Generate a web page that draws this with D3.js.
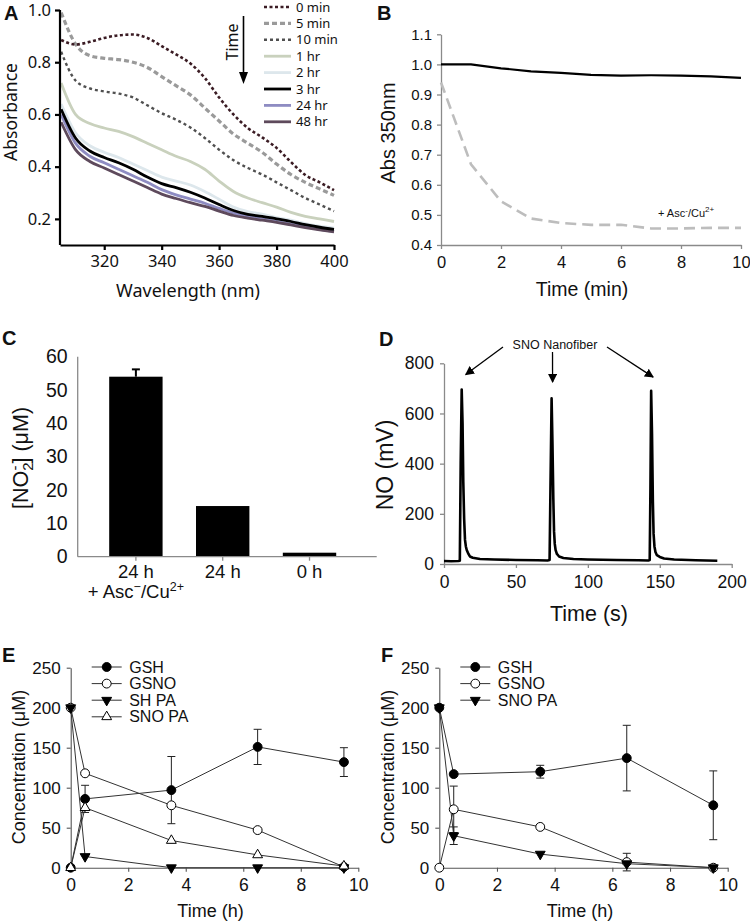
<!DOCTYPE html>
<html><head><meta charset="utf-8">
<script src="https://cdn.jsdelivr.net/npm/d3@7"></script>
<style>body{margin:0;background:#fff}text{fill:#111}</style>
</head><body>
<svg id="fig" width="750" height="924" xmlns="http://www.w3.org/2000/svg"></svg>
<script>
// ---------------- DATA ----------------
// Panel A: absorbance spectra
const wavelengths = [305,310,315,320,325,330,335,340,345,350,355,360,365,370,375,380,385,390,395,400];
const abs0min  = [0.885,0.868,0.878,0.893,0.903,0.906,0.893,0.862,0.830,0.795,0.740,0.665,0.600,0.548,0.512,0.472,0.418,0.368,0.340,0.310];
const abs5min  = [0.990,0.870,0.825,0.815,0.810,0.800,0.780,0.745,0.710,0.675,0.625,0.575,0.525,0.490,0.455,0.410,0.370,0.340,0.315,0.290];
const abs10min = [0.840,0.730,0.700,0.688,0.680,0.665,0.635,0.605,0.580,0.550,0.510,0.465,0.425,0.395,0.370,0.340,0.310,0.280,0.255,0.230];
const abs1hr   = [0.720,0.600,0.565,0.548,0.535,0.515,0.490,0.465,0.440,0.420,0.390,0.345,0.305,0.280,0.262,0.245,0.225,0.210,0.200,0.190];
const abs2hr   = [0.640,0.530,0.480,0.455,0.435,0.410,0.385,0.360,0.345,0.330,0.305,0.275,0.245,0.228,0.218,0.205,0.195,0.182,0.172,0.165];
const abs3hr   = [0.620,0.510,0.460,0.435,0.415,0.390,0.360,0.335,0.320,0.302,0.280,0.255,0.232,0.217,0.210,0.200,0.190,0.178,0.168,0.160];
const abs24hr  = [0.600,0.490,0.440,0.415,0.390,0.365,0.340,0.312,0.292,0.276,0.260,0.240,0.222,0.210,0.200,0.190,0.180,0.170,0.160,0.152];
const abs48hr  = [0.570,0.465,0.420,0.395,0.370,0.345,0.320,0.295,0.278,0.262,0.248,0.230,0.213,0.203,0.195,0.187,0.177,0.167,0.158,0.150];
const seriesA  = ["0 min","5 min","10 min","1 hr","2 hr","3 hr","24 hr","48 hr"];
const ticksAx  = [320,340,360,380,400];
const ticksAy  = [0.2,0.4,0.6,0.8,1.0];

// Panel B: Abs 350 nm vs time
const timeB     = [0,1,2,3,4,5,6,7,8,9,10];
const absB      = [1.000,1.000,0.987,0.977,0.972,0.965,0.963,0.964,0.963,0.960,0.955];
const absBAscCu = [0.940,0.668,0.545,0.488,0.473,0.467,0.467,0.455,0.455,0.457,0.457];
const ticksBx   = [0,2,4,6,8,10];
const ticksBy   = [0.4,0.5,0.6,0.7,0.8,0.9,1.0,1.1];

// Panel C: nitrite bars
const catsC   = ["c1","c2","c3"];
const valsC   = [54,15.2,1.2];
const errC    = [2.2,0,0];
const ticksCy = [0,10,20,30,40,50,60];

// Panel D: NO trace
const timeD = [0,5,10,11,11.6,12.3,12.9,13.4,14,14.6,15.2,15.8,17,18,20,25,35,50,65,72,73.4,74,74.8,75.4,76,76.5,77,77.6,78.5,80,83,90,100,120,135,142,143,143.5,144,144.6,145.2,145.7,146.3,147,148,150,153,160,175,190];
const noD   = [12,11,12,13,400,695,560,330,180,96,70,56,40,30,25,20,18,16,15,14,16,300,660,480,260,130,80,55,40,30,24,20,18,16,15,14,16,300,690,520,250,120,70,48,35,28,22,18,15,13];
const ticksDx = [0,50,100,150,200];
const ticksDy = [0,200,400,600,800];
const peaksD  = [12.3,74.8,144];

// Panel E
const timeEF   = [0,0.5,3.5,6.5,9.5];
const gshE     = [0,86,97,151,132];
const gshEerr  = [0,17,42,22,18];
const gsnoE    = [200,118,78,47,1];
const gsnoEerr = [0,0,0,0,0];
const shpaE    = [200,14,0,0,0];
const snopaE   = [0,75,34,16,2];
// Panel F
const gshF      = [200,117,120,137,78];
const gshFerr   = [0,0,8,41,43];
const gsnoF     = [0,73,51,7,0];
const gsnoFerr  = [0,29,0,11,0];
const snopaF    = [200,40,17,5,0];
const snopaFerr = [0,11,0,0,0];
const ticksEx = [0,2,4,6,8,10];
const ticksEy = [0,50,100,150,200,250];

// ---------------- DRAWING ----------------
const svg = d3.select("#fig");
const ARIAL = "'Liberation Sans', Arial, sans-serif";
const MYR = "'Noto Sans', 'Open Sans', sans-serif";

function label(t,x,y){ svg.append("text").attr("x",x).attr("y",y).text(t)
  .attr("font-family",ARIAL).attr("font-weight","bold").attr("font-size",20); }

function styleAxis(g, color, width, fs, font){
  g.select(".domain").attr("stroke",color).attr("stroke-width",width);
  g.selectAll(".tick line").attr("stroke",color).attr("stroke-width",width);
  g.selectAll(".tick text").attr("font-family",font).attr("font-size",fs).attr("fill","#111");
}

// ===== Panel A =====
(function(){
  const x = d3.scaleLinear().domain([304.6,400]).range([60,334]);
  const y = d3.scaleLinear().domain([0.1,1.0]).range([245,10]);
  const colors = ["#3b1c24","#9a9a9a","#505050","#c9d1bd","#dde7ec","#000000","#8e8cc2","#5e4a5c"];
  const widths = [2.6,3.2,2.4,2.8,2.8,2.8,2.8,2.8];
  const dashes = ["3,2.5","5,3","3,3",null,null,null,null,null];
  const data = [abs0min,abs5min,abs10min,abs1hr,abs2hr,abs3hr,abs24hr,abs48hr];
  const order = [3,4,1,6,7,5,2,0];
  const line = d3.line().x((d,i)=>x(wavelengths[i])).y(d=>y(d)).curve(d3.curveMonotoneX);
  order.forEach(k=>{
    svg.append("path").attr("d",line(data[k])).attr("fill","none")
      .attr("stroke",colors[k]).attr("stroke-width",widths[k])
      .attr("stroke-dasharray",dashes[k]);
  });
  const gx = svg.append("g").attr("transform","translate(0,245)")
    .call(d3.axisBottom(x).tickValues(ticksAx).tickSize(5).tickPadding(5).tickSizeOuter(0));
  styleAxis(gx,"#000",2.2,16.5,MYR);
  const gy = svg.append("g").attr("transform","translate(60,0)")
    .call(d3.axisLeft(y).tickValues(ticksAy).tickFormat(d3.format(".1f")).tickSize(5).tickPadding(4).tickSizeOuter(0));
  styleAxis(gy,"#000",2.2,16.5,MYR);
  gy.select(".domain").attr("d","M0,10V245");
  svg.append("text").attr("x",188).attr("y",297).attr("text-anchor","middle")
    .attr("font-family",MYR).attr("font-size",18).text("Wavelength (nm)");
  svg.append("text").attr("transform","translate(17,112) rotate(-90)").attr("text-anchor","middle")
    .attr("font-family",MYR).attr("font-size",17.5).text("Absorbance");
  // legend
  seriesA.forEach((s,k)=>{
    const yy = 7 + k*16.4;
    svg.append("line").attr("x1",264).attr("x2",291).attr("y1",yy).attr("y2",yy)
      .attr("stroke",colors[k]).attr("stroke-width",widths[k]).attr("stroke-dasharray",dashes[k]);
    svg.append("text").attr("x",296).attr("y",yy+4.5).attr("font-family",MYR).attr("font-size",13).text(s);
  });
  // Time arrow
  svg.append("text").attr("transform","translate(238,42) rotate(-90)").attr("text-anchor","middle")
    .attr("font-family",MYR).attr("font-size",16).text("Time");
  svg.append("line").attr("x1",243.5).attr("x2",243.5).attr("y1",16).attr("y2",76).attr("stroke","#000").attr("stroke-width",1.6);
  svg.append("path").attr("d","M239,72 L243.5,84 L248,72 Z").attr("fill","#000");
  label("A",4,20);
})();

// ===== Panel B =====
(function(){
  const x = d3.scaleLinear().domain([0,10]).range([441,741]);
  const y = d3.scaleLinear().domain([0.4,1.1]).range([245,34.3]);
  const gx = svg.append("g").attr("transform","translate(0,245)")
    .call(d3.axisBottom(x).tickValues(ticksBx).tickSize(4).tickPadding(7).tickSizeOuter(0));
  styleAxis(gx,"#8a8a8a",1.3,16.5,ARIAL);
  const gy = svg.append("g").attr("transform","translate(441,0)")
    .call(d3.axisLeft(y).tickValues(ticksBy).tickFormat(d3.format(".1f")).tickSize(4).tickPadding(5).tickSizeOuter(0));
  styleAxis(gy,"#8a8a8a",1.3,15,ARIAL);
  const line = d3.line().x((d,i)=>x(timeB[i])).y(d=>y(d));
  svg.append("path").attr("d",line(absBAscCu)).attr("fill","none").attr("stroke","#bdbdbd")
    .attr("stroke-width",2.6).attr("stroke-dasharray","11,6");
  svg.append("path").attr("d",line(absB)).attr("fill","none").attr("stroke","#000").attr("stroke-width",2.2);
  const t = svg.append("text").attr("x",658).attr("y",217).attr("font-family",ARIAL).attr("font-size",11);
  t.append("tspan").text("+ Asc");
  t.append("tspan").attr("dy",-4).attr("font-size",8).text("-");
  t.append("tspan").attr("dy",4).text("/Cu");
  t.append("tspan").attr("dy",-5).attr("font-size",8).text("2+");
  svg.append("text").attr("x",582).attr("y",296).attr("text-anchor","middle")
    .attr("font-family",ARIAL).attr("font-size",19.5).text("Time (min)");
  svg.append("text").attr("transform","translate(395,133) rotate(-90)").attr("text-anchor","middle")
    .attr("font-family",ARIAL).attr("font-size",20).text("Abs 350nm");
  label("B",377,20);
})();

// ===== Panel C =====
(function(){
  const x = d3.scaleBand().domain(catsC).range([92.7,352.7]).paddingInner(0.385).paddingOuter(0.19);
  const y = d3.scaleLinear().domain([0,60]).range([556.7,356.7]);
  svg.selectAll(".barC").data(valsC).enter().append("rect")
    .attr("x",(d,i)=>x(catsC[i])).attr("width",x.bandwidth())
    .attr("y",d=>y(d)).attr("height",d=>y(0)-y(d)).attr("fill","#000");
  valsC.forEach((v,i)=>{
    if(errC[i]>0){
      const cx = x(catsC[i])+x.bandwidth()/2;
      svg.append("line").attr("x1",cx).attr("x2",cx).attr("y1",y(v)).attr("y2",y(v+errC[i])).attr("stroke","#000").attr("stroke-width",2);
      svg.append("line").attr("x1",cx-4).attr("x2",cx+4).attr("y1",y(v+errC[i])).attr("y2",y(v+errC[i])).attr("stroke","#000").attr("stroke-width",2);
    }
  });
  const gy = svg.append("g").attr("transform","translate(77.7,0)")
    .call(d3.axisLeft(y).tickValues(ticksCy).tickSize(0).tickPadding(10).tickSizeOuter(0));
  styleAxis(gy,"#8a8a8a",1.3,19.5,ARIAL);
  gy.select(".domain").attr("d","M0,356.7V556.7");
  const gx = svg.append("g").attr("transform","translate(0,556.7)")
    .call(d3.axisBottom(x).tickSize(4).tickFormat("").tickSizeOuter(0));
  styleAxis(gx,"#8a8a8a",1.3,19,ARIAL);
  gx.select(".domain").attr("d","M77.7,0H376.7");
  const lab = ["24 h","24 h","0 h"];
  catsC.forEach((c,i)=>{
    svg.append("text").attr("x",x(c)+x.bandwidth()/2).attr("y",578).attr("text-anchor","middle")
      .attr("font-family",ARIAL).attr("font-size",18.5).text(lab[i]);
  });
  const t2 = svg.append("text").attr("x",x(catsC[0])+x.bandwidth()/2).attr("y",598).attr("text-anchor","middle")
    .attr("font-family",ARIAL).attr("font-size",18.5);
  t2.append("tspan").text("+ Asc");
  t2.append("tspan").attr("dy",-7).attr("font-size",12.5).text("−");
  t2.append("tspan").attr("dy",7).text("/Cu");
  t2.append("tspan").attr("dy",-7).attr("font-size",12.5).text("2+");
  const yt = svg.append("text").attr("transform","translate(28,458) rotate(-90)").attr("text-anchor","middle")
    .attr("font-family",ARIAL).attr("font-size",21.5);
  yt.append("tspan").text("[NO");
  yt.append("tspan").attr("dy",5).attr("font-size",15).text("2");
  yt.append("tspan").attr("dy",-13).attr("dx",-8).attr("font-size",15).text("-");
  yt.append("tspan").attr("dy",8).attr("dx",2).text("] (μM)");
  label("C",2,345);
})();

// ===== Panel D =====
(function(){
  const x = d3.scaleLinear().domain([0,200]).range([444,731.7]);
  const y = d3.scaleLinear().domain([0,800]).range([564,363.3]);
  const gx = svg.append("g").attr("transform","translate(0,564)")
    .call(d3.axisBottom(x).tickValues(ticksDx).tickSize(4).tickPadding(8).tickSizeOuter(0));
  styleAxis(gx,"#8a8a8a",1.3,17.5,ARIAL);
  const gy = svg.append("g").attr("transform","translate(444,0)")
    .call(d3.axisLeft(y).tickValues(ticksDy).tickSize(4).tickPadding(6).tickSizeOuter(0));
  styleAxis(gy,"#8a8a8a",1.3,17.5,ARIAL);
  const line = d3.line().x((d,i)=>x(timeD[i])).y(d=>y(d));
  svg.append("path").attr("d",line(noD)).attr("fill","none").attr("stroke","#000").attr("stroke-width",2.6).attr("stroke-linejoin","round");
  svg.append("text").attr("x",555).attr("y",349).attr("text-anchor","middle")
    .attr("font-family",ARIAL).attr("font-size",12.5).text("SNO Nanofiber");
  const defs = svg.append("defs");
  defs.append("marker").attr("id","arr").attr("viewBox","0 0 10 10").attr("refX",9).attr("refY",5)
    .attr("markerWidth",7).attr("markerHeight",7).attr("orient","auto-start-reverse")
    .append("path").attr("d","M0,0 L10,5 L0,10 Z").attr("fill","#000");
  const starts = [[503,347],[552.5,352],[607,347]];
  const peakVals = [755,725,745];
  peaksD.forEach((p,i)=>{
    const ex = i===1 ? x(p)+1 : x(p)+ (i===0?4:2);
    svg.append("line").attr("x1",starts[i][0]).attr("y1",starts[i][1])
      .attr("x2",ex).attr("y2",y(peakVals[i]))
      .attr("stroke","#000").attr("stroke-width",1.3).attr("marker-end","url(#arr)");
  });
  svg.append("text").attr("x",589).attr("y",621).attr("text-anchor","middle")
    .attr("font-family",ARIAL).attr("font-size",21.5).text("Time (s)");
  svg.append("text").attr("transform","translate(393,465) rotate(-90)").attr("text-anchor","middle")
    .attr("font-family",ARIAL).attr("font-size",23).text("NO (mV)");
  label("D",379,346);
})();

// ===== Panels E & F =====
function kinetic(x0, x1, lbl, lblX, series, legendNames){
  const x = d3.scaleLinear().domain([0,10]).range([x0,x1]);
  const y = d3.scaleLinear().domain([0,250]).range([867.7,667.7]);
  const gx = svg.append("g").attr("transform","translate(0,867.7)")
    .call(d3.axisBottom(x).tickValues(ticksEx).tickSize(4).tickPadding(7).tickSizeOuter(0));
  styleAxis(gx,"#555",1.1,17.5,ARIAL);
  const gy = svg.append("g").attr("transform",`translate(${x0},0)`)
    .call(d3.axisLeft(y).tickValues(ticksEy).tickSize(4).tickPadding(6).tickSizeOuter(0));
  styleAxis(gy,"#555",1.1,17,ARIAL);
  const line = d3.line().x((d,i)=>x(timeEF[i])).y(d=>y(d));
  const sym = {
    fc: d3.symbol().type(d3.symbolCircle).size(62)(),
    oc: d3.symbol().type(d3.symbolCircle).size(62)(),
    ft: d3.symbol().type(d3.symbolTriangle).size(42)(),
    ot: d3.symbol().type(d3.symbolTriangle).size(42)()
  };
  function drawSym(g, kind, cx, cy){
    const filled = kind[0]==="f";
    const rot = kind==="ft" ? " rotate(180)" : "";
    g.append("path").attr("d",sym[kind]).attr("transform",`translate(${cx},${cy})${rot}`)
      .attr("fill",filled?"#000":"#fff").attr("stroke","#000").attr("stroke-width",1);
  }
  series.forEach(s=>{
    if(!s.err) return;
    s.vals.forEach((v,i)=>{
      const e = s.err[i]; if(!e) return;
      const cx = x(timeEF[i]);
      svg.append("line").attr("x1",cx).attr("x2",cx).attr("y1",y(v-e)).attr("y2",y(v+e)).attr("stroke","#222").attr("stroke-width",1);
      [v-e,v+e].forEach(w=>svg.append("line").attr("x1",cx-4).attr("x2",cx+4).attr("y1",y(w)).attr("y2",y(w)).attr("stroke","#222").attr("stroke-width",1));
    });
  });
  series.forEach(s=>{
    svg.append("path").attr("d",line(s.vals)).attr("fill","none").attr("stroke","#333").attr("stroke-width",1);
  });
  const g = svg.append("g");
  series.forEach(s=>{
    s.vals.forEach((v,i)=>drawSym(g,s.kind,x(timeEF[i]),y(v)));
  });
  series.forEach((s,k)=>{
    const yy = 667 + k*16.6;
    const lx = x0 + 21;
    svg.append("line").attr("x1",lx).attr("x2",lx+30).attr("y1",yy).attr("y2",yy).attr("stroke","#333").attr("stroke-width",1);
    drawSym(svg,s.kind,lx+15,yy);
    svg.append("text").attr("x",lx+37.5).attr("y",yy+5.5).attr("font-family",ARIAL).attr("font-size",16).text(legendNames[k]);
  });
  svg.append("text").attr("x",(x0+x1)/2+(lbl==="E"?-4:-3.5)).attr("y",917).attr("text-anchor","middle")
    .attr("font-family",ARIAL).attr("font-size",18).text("Time (h)");
  svg.append("text").attr("transform",`translate(${x0-45.5},767) rotate(-90)`).attr("text-anchor","middle")
    .attr("font-family",ARIAL).attr("font-size",18).text("Concentration (μM)");
  label(lbl,lblX,662);
}
kinetic(70.7,358.3,"E",2,[
  {vals:gshE,err:gshEerr,kind:"fc"},
  {vals:gsnoE,err:gsnoEerr,kind:"oc"},
  {vals:shpaE,err:null,kind:"ft"},
  {vals:snopaE,err:null,kind:"ot"}],["GSH","GSNO","SH PA","SNO PA"]);
kinetic(439.3,727.7,"F",381,[
  {vals:gshF,err:gshFerr,kind:"fc"},
  {vals:gsnoF,err:gsnoFerr,kind:"oc"},
  {vals:snopaF,err:snopaFerr,kind:"ft"}],["GSH","GSNO","SNO PA"]);
</script>
</body></html>
